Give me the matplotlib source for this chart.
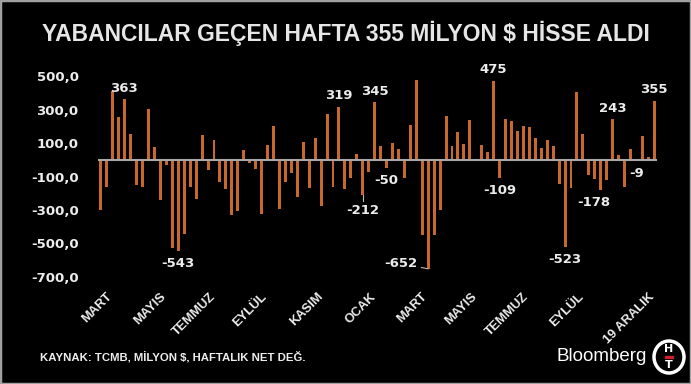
import numpy as np
import matplotlib.pyplot as plt
from matplotlib.patches import Ellipse, Rectangle

# weekly net flows (million $)
values = [-300, -160, 415, 260, 363, 154, -150, -160, 304, 80,
          -240, -30, -530, -543, -444, -164, -234, 150, -60, 120,
          -134, -174, -330, -304, 60, -20, -54, -326, 90, 204,
          -296, -130, -76, -224, 106, -170, 134, -276, 276, -164,
          319, -174, -106, 36, -212, -70, 345, 84, -50, 104,
          68, -110, 210, 476, -450, -652, -450, -300, 264, 84,
          170, 96, 240, 4, 90, 48, 475, -109, 244, 234,
          174, 206, 200, 132, 72, 120, 86, -146, -523, -170,
          406, 154, -90, -116, -178, -120, 243, 28, -164, 64,
          -9, 146, 20, 355]

# bars that carry a value label
labelled = [4, 13, 40, 44, 46, 48, 55, 66, 67, 78, 84, 86, 90, 93]

month_labels = ['MART', 'MAYIS', 'TEMMUZ', 'EYLÜL', 'KASIM', 'OCAK',
                'MART', 'MAYIS', 'TEMMUZ', 'EYLÜL', '19 ARALIK']
month_pos = [2.2, 11.4, 19.7, 28.3, 37.8, 46.6, 55.2, 63.6, 72.2, 81.6, 93.4]

yticks = [500, 300, 100, -100, -300, -500, -700]

bar_color = '#c8682d'
txt_color = '#ececec'

fig = plt.figure(figsize=(6.91, 3.84), dpi=100)
fig.patch.set_facecolor('black')
ax = fig.add_axes([0.1418, 0.2572, 0.8094, 0.5871])
ax.set_facecolor('black')

x = np.arange(len(values))
ax.bar(x, values, width=0.5, color=bar_color, zorder=2)
ax.axhline(0, color='#a8a8a8', lw=1.5, zorder=3)

ax.set_xlim(-0.5, 93.5)
ax.set_ylim(-750, 600)

ax.set_yticks(yticks)
ax.set_yticklabels([('%.1f' % v).replace('.', ',') for v in yticks],
                   fontsize=9.5, fontweight='bold', color=txt_color)
ax.set_xticks(month_pos)
ax.set_xticklabels(month_labels, rotation=45, ha='right', fontsize=9.3,
                   fontweight='bold', color=txt_color, family='Liberation Sans')
ax.tick_params(axis='y', length=0, pad=14)
ax.tick_params(axis='x', length=0, pad=4)
for s in ax.spines.values():
    s.set_visible(False)

# value labels
offsets = {84: (-5, 0)}
for i in labelled:
    v = values[i]
    dx, dy = offsets.get(i, (0, 0))
    if i == 55:
        ax.annotate(str(v), xy=(i, v), xytext=(-8, 4), textcoords='offset points',
                    ha='right', va='center', fontsize=9.5, fontweight='bold',
                    color=txt_color,
                    arrowprops=dict(arrowstyle='-', color='#bbbbbb', lw=0.8,
                                    shrinkA=1, shrinkB=0))
        continue
    if i == 4:
        ax.annotate(str(v), xy=(i - 0.1, v), xytext=(0, 8), textcoords='offset points',
                    ha='center', va='center', fontsize=9.5, fontweight='bold',
                    color=txt_color)
        continue
    if v >= 0:
        dy += 8
    else:
        dy -= 9
    if i == 44:
        dy -= 2
        ax.plot([i, i], [v, v - 35], color='#bbbbbb', lw=0.8, zorder=3)
    ax.annotate(str(v), xy=(i, v), xytext=(dx, dy), textcoords='offset points',
                ha='center', va='center', fontsize=9.5, fontweight='bold',
                color=txt_color)

# title and footer
fig.text(0.5, 0.912, 'YABANCILAR GEÇEN HAFTA 355 MİLYON $ HİSSE ALDI',
         ha='center', va='center', fontsize=16.5, fontweight='bold',
         color='#e6e6e6', family='Liberation Sans')
fig.text(0.058, 0.07, 'KAYNAK: TCMB, MİLYON $, HAFTALIK NET DEĞ.',
         ha='left', va='center', fontsize=8.2, fontweight='bold',
         color=txt_color, family='Liberation Sans')
fig.text(0.806, 0.072, 'Bloomberg', ha='left', va='center', fontsize=13.5,
         color='white', family='Liberation Sans')

# HT logo
cx, cy = 669 / 691, 1 - 357 / 384
fig.patches.append(Ellipse((cx, cy), 30 / 691, 32 / 384, transform=fig.transFigure,
                           facecolor='black', edgecolor='white', lw=2.5))
fig.text(cx, cy + 8 / 384, 'H', ha='center', va='center', fontsize=8,
         fontweight='bold', color='white')
fig.text(cx, cy - 8 / 384, 'T', ha='center', va='center', fontsize=8,
         fontweight='bold', color='white')
fig.patches.append(Rectangle((cx - 4 / 691, cy - 1 / 384), 8 / 691, 2.5 / 384,
                             transform=fig.transFigure, color='#d01f2f'))

# thin grey frame
fig.patches.append(Rectangle((0, 0), 1, 1, transform=fig.transFigure,
                             fill=False, edgecolor='#a0a0a0', lw=2.5))

fig.savefig('out.png', dpi=100, facecolor='black')
